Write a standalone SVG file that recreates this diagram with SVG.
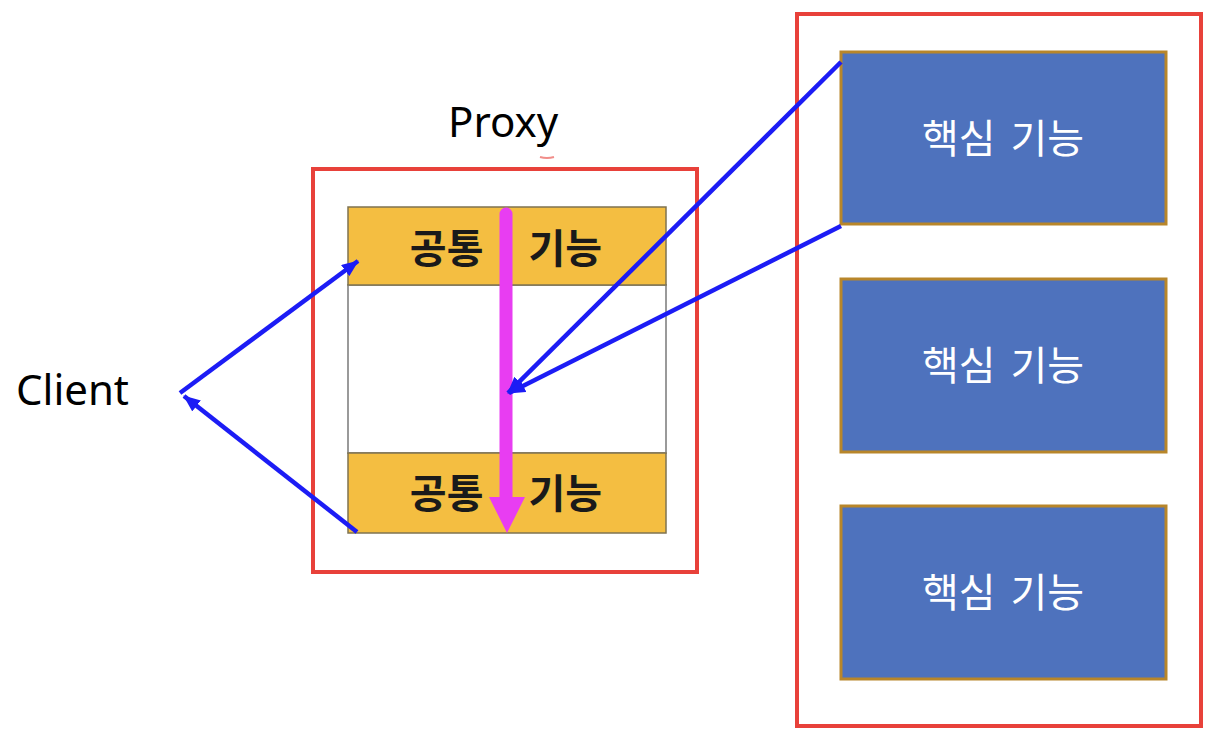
<svg xmlns="http://www.w3.org/2000/svg" width="1214" height="740" viewBox="0 0 1214 740">
<style>
.frame{fill:none;stroke:#E8413A;stroke-width:4}
.band{fill:#F4BE41;stroke:#7f7350;stroke-width:1.5}
.mid{fill:#fff;stroke:#9a9a9a;stroke-width:2}
.core{fill:#4E72BD;stroke:#B8862A;stroke-width:3}
.lbl{font-family:"Noto Sans","Open Sans",sans-serif;font-size:42px;fill:#000}
.cm{font-family:"Noto Sans CJK KR",sans-serif;font-size:40px;font-weight:bold;fill:#1a1a1a;text-anchor:middle}
.ct{font-family:"Noto Sans CJK KR",sans-serif;font-size:40px;fill:#fff;text-anchor:middle}
.blue{fill:none;stroke:#1c1cf5;stroke-width:4.5}
</style>
<defs>
<marker id="ah" markerUnits="userSpaceOnUse" markerWidth="18" markerHeight="14" refX="16" refY="7" orient="auto">
<path d="M0,0 L17,7 L0,14 Z" fill="#1c1cf5"/>
</marker>
</defs>
<rect width="1214" height="740" fill="#fff"/>
<g id="client"><text class="lbl" x="16" y="405">Client</text></g>
<g id="proxy">
<text class="lbl" x="448" y="137" font-size="41">Proxy</text>
<path d="M540,157 Q547,159 554,157" fill="none" stroke="#E8413A" stroke-width="2" opacity="0.6"/>
<rect class="frame" x="313" y="169" width="384" height="403"/>
<rect class="mid" x="348" y="285" width="318" height="168"/>
<g id="common-top">
<rect class="band" x="348" y="207" width="318" height="78"/>
<text class="cm" x="506" y="263" word-spacing="36">공통 기능</text>
</g>
<g id="common-bottom">
<rect class="band" x="348" y="453" width="318" height="80"/>
<text class="cm" x="506" y="508" word-spacing="36">공통 기능</text>
</g>
</g>
<g id="core-group">
<rect class="frame" x="797" y="14" width="404" height="712"/>
<g id="core1"><rect class="core" x="841" y="52" width="325" height="172"/><text class="ct" x="1003" y="153" word-spacing="6">핵심 기능</text></g>
<g id="core2"><rect class="core" x="841" y="279" width="325" height="173"/><text class="ct" x="1003" y="380" word-spacing="6">핵심 기능</text></g>
<g id="core3"><rect class="core" x="841" y="506" width="325" height="173"/><text class="ct" x="1003" y="607" word-spacing="6">핵심 기능</text></g>
</g>
<g id="connectors">
<line x1="506" y1="214" x2="506" y2="500" stroke="#E83DF2" stroke-width="13" stroke-linecap="round"/>
<path d="M489,497 L525,497 L507,533 Z" fill="#E83DF2"/>
<line class="blue" x1="180" y1="393" x2="358" y2="261" marker-end="url(#ah)"/>
<line class="blue" x1="357" y1="532" x2="184" y2="396" marker-end="url(#ah)"/>
<line class="blue" x1="841" y1="62" x2="508" y2="393" marker-end="url(#ah)"/>
<line class="blue" x1="841" y1="226" x2="509" y2="393" marker-end="url(#ah)"/>
</g>
</svg>
